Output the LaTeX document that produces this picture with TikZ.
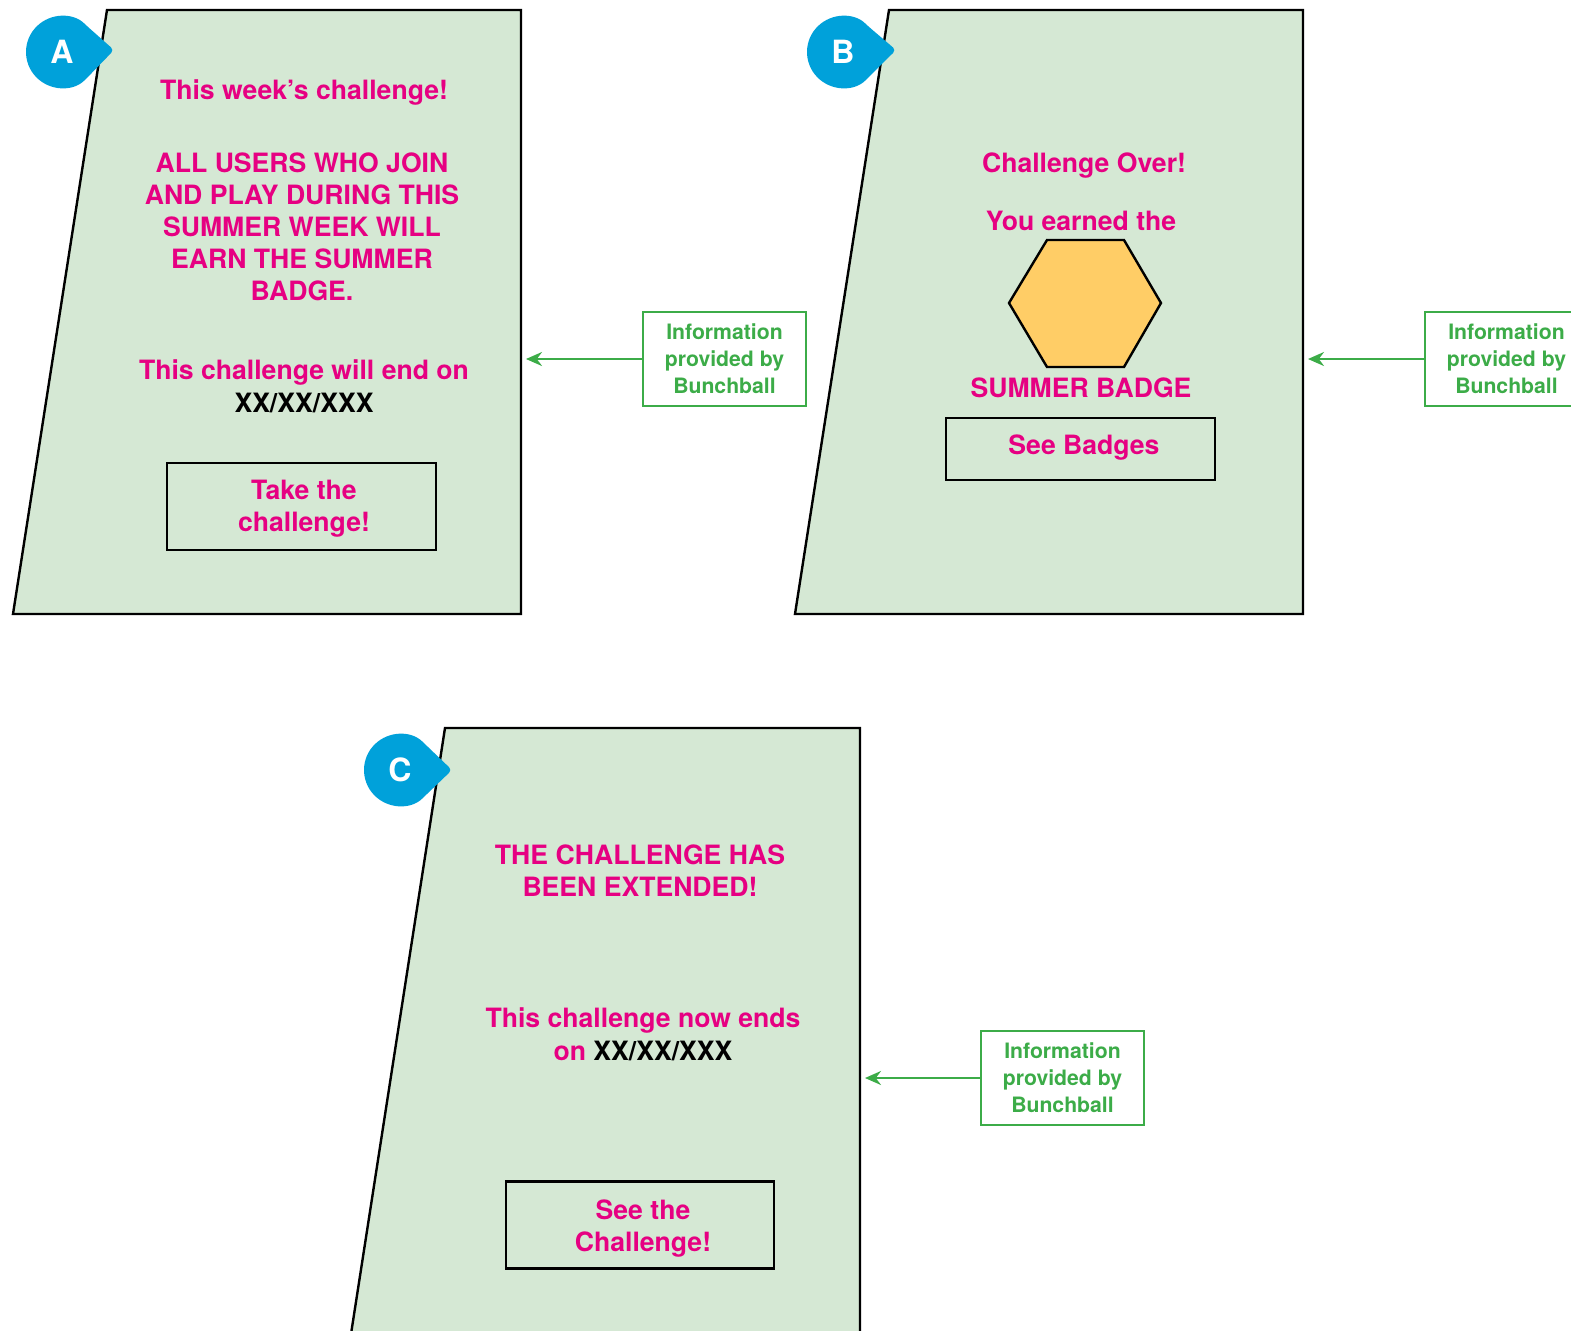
\documentclass[tikz,border=0pt]{standalone}
\usepackage{fontspec}
\setmainfont{TeX Gyre Heros}
\usetikzlibrary{arrows.meta,calc}

\definecolor{panelfill}{RGB}{213,232,212}
\definecolor{pinktext}{RGB}{230,0,130}
\definecolor{infogreen}{RGB}{60,172,72}
\definecolor{markerblue}{RGB}{0,161,218}
\definecolor{badgefill}{RGB}{255,205,102}

\tikzset{
  panel/.style={fill=panelfill,draw=black,line width=1.2pt,line join=miter},
  bigtext/.style={text=pinktext,font=\fontsize{13.3}{16}\bfseries\selectfont,align=center,inner sep=0pt},
  datetext/.style={text=black,font=\fontsize{13.3}{16}\bfseries\selectfont,inner sep=0pt},
  button/.style={draw=black,line width=1.2pt,fill=panelfill,inner sep=0pt},
  infobox/.style={draw=infogreen,line width=1.1pt,fill=white,text=infogreen,
    font=\fontsize{10.6}{13.5}\bfseries\selectfont,align=center,inner sep=0pt,
    minimum width=81.5pt,minimum height=47pt},
  infoarrow/.style={draw=infogreen,line width=1.1pt,-{Stealth[length=8pt,width=7pt]}},
  markerletter/.style={text=white,font=\fontsize{16}{16}\bfseries\selectfont,inner sep=0pt},
}

% teardrop marker: circle of radius 36 centred at #1, pointing right to #2
\newcommand{\dropmarker}[4]{%
  \fill[markerblue,rounded corners=2pt] (#2) -- ($(#1)+(46:36)$)
     arc[start angle=46,end angle=314,radius=36] -- cycle;
  \node[markerletter] (#3) at (#1) {#4};
}

\begin{document}
\begin{tikzpicture}[x=0.5pt,y=-0.5pt]
\path[use as bounding box,clip] (0,0) rectangle (1571,1330);
\fill[white] (0,0) rectangle (1571,1330);

% ---------- panel A: weekly challenge ----------
\draw[panel] (107,10) -- (521,10) -- (521,614) -- (13,614) -- cycle;
\dropmarker{62,52}{114,50}{markA}{A}
\node[bigtext] (a1) at (304,92) {This week’s challenge!};
\node[bigtext] (a2) at (302,227) {ALL USERS WHO JOIN\\AND PLAY DURING THIS\\SUMMER WEEK WILL\\EARN THE SUMMER\\BADGE.};
\node[bigtext] (a3) at (304,372) {This challenge will end on};
\node[datetext] (a4) at (304,403) {XX/XX/XXX};
\node[button,minimum width=134.5pt,minimum height=43.5pt] (abtn) at (301.5,506.5) {};
\node[bigtext] (abtnlabel) at (304,509) {Take the\\challenge!};
\node[infobox] (infoA) at (724.5,359) {Information\\provided by\\Bunchball};
\coordinate (edgeA) at (526,359);
\draw[infoarrow] (infoA.west) -- (edgeA);

% ---------- panel B: challenge over ----------
\draw[panel] (889,10) -- (1303,10) -- (1303,614) -- (795,614) -- cycle;
\dropmarker{843,52}{896,50}{markB}{B}
\node[bigtext] (b1) at (1084,166) {Challenge Over!};
\node[bigtext] (b2) at (1081,221) {You earned the};
\draw[fill=badgefill,draw=black,line width=1.2pt,line join=miter]
  (1009,303) -- (1047,240) -- (1124,240) -- (1161,303) -- (1124,367) -- (1047,367) -- cycle;
\node[bigtext] (b3) at (1081,388) {SUMMER BADGE};
\node[button,minimum width=134.5pt,minimum height=31pt] (bbtn) at (1080.5,449) {};
\node[bigtext] (bbtnlabel) at (1084,448) {See Badges};
\node[infobox] (infoB) at (1506.5,359) {Information\\provided by\\Bunchball};
\coordinate (edgeB) at (1308,359);
\draw[infoarrow] (infoB.west) -- (edgeB);

% ---------- panel C: challenge extended ----------
\draw[panel] (445,728) -- (860,728) -- (860,1334) -- (351,1334) -- cycle;
\dropmarker{400,770}{452,770}{markC}{C}
\node[bigtext] (c1) at (640,871) {THE CHALLENGE HAS\\BEEN EXTENDED!};
\node[bigtext] (c2) at (643,1020) {This challenge now ends};
\node[bigtext] (c3) at (643,1051) {on \textcolor{black}{XX/XX/XXX}};
\node[button,minimum width=134pt,minimum height=43.5pt] (cbtn) at (640,1225) {};
\node[bigtext] (cbtnlabel) at (643,1229) {See the\\Challenge!};
\node[infobox] (infoC) at (1062.5,1078) {Information\\provided by\\Bunchball};
\coordinate (edgeC) at (865,1078);
\draw[infoarrow] (infoC.west) -- (edgeC);
\end{tikzpicture}
\end{document}
